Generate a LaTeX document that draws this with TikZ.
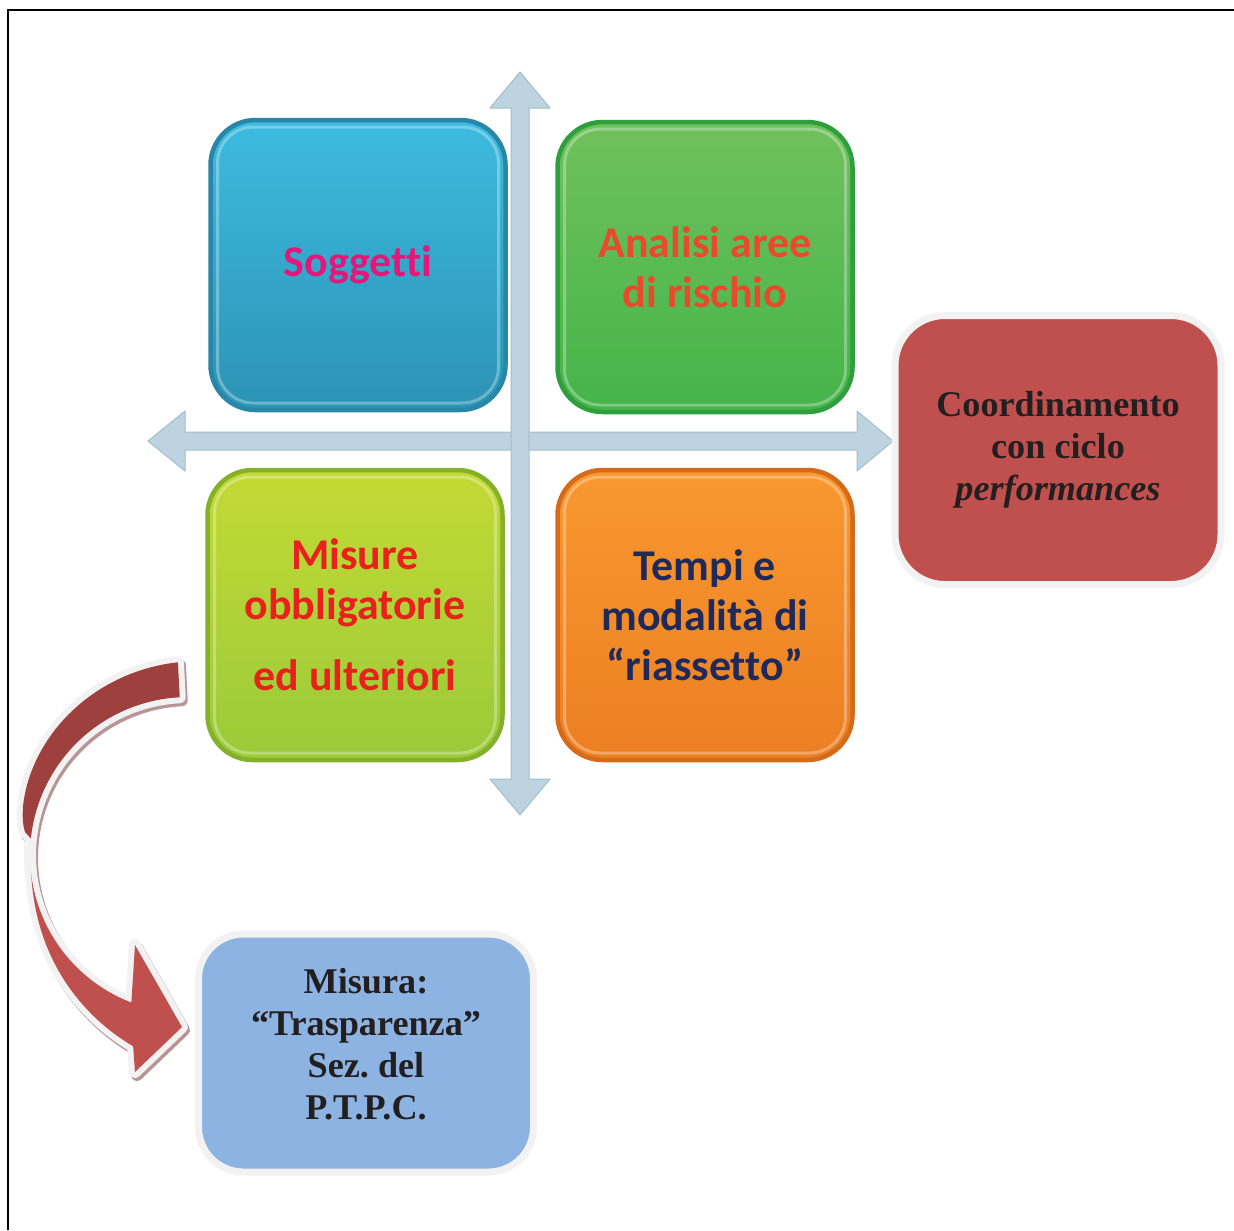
\documentclass[tikz,border=0pt]{standalone}
\usepackage{fontspec}
\setmainfont{Liberation Serif}
\newfontfamily\calibri[Ligatures=NoCommon]{Carlito}

\definecolor{arrowfill}{HTML}{BDD3DF}
\definecolor{arrowedge}{HTML}{A3BDCB}
\definecolor{cyantop}{HTML}{3DBBE0}
\definecolor{cyanbot}{HTML}{2C93B5}
\definecolor{cyanrim}{HTML}{2886A8}
\definecolor{greentop}{HTML}{70C15C}
\definecolor{greenbot}{HTML}{44B44A}
\definecolor{greenrim}{HTML}{2F9E3D}
\definecolor{limetop}{HTML}{C4DA34}
\definecolor{limebot}{HTML}{9ACA3A}
\definecolor{limerim}{HTML}{84B02A}
\definecolor{orangetop}{HTML}{F8982F}
\definecolor{orangebot}{HTML}{EC7F23}
\definecolor{orangerim}{HTML}{D46A1A}
\definecolor{boxred}{HTML}{C0504D}
\definecolor{boxblue}{HTML}{8DB3E2}
\definecolor{darkred}{HTML}{9E403E}
\definecolor{shadowred}{HTML}{B89494}
\definecolor{txtmagenta}{HTML}{E4177A}
\definecolor{txtorange}{HTML}{E94A2C}
\definecolor{txtred}{HTML}{E8211E}
\definecolor{txtnavy}{HTML}{1F2A5A}
\definecolor{txtblack}{HTML}{231F20}

\begin{document}
\begin{tikzpicture}[x=0.1mm,y=-0.1mm]
	\tikzstyle{tile}=[rounded corners=4.5mm, line width=0.45mm, minimum width=29.5mm, minimum height=29mm, inner sep=0pt, align=center, font=\calibri\bfseries\fontsize{12.5}{14.2}\selectfont,
		path picture={\draw[white,opacity=0.3,line width=0.3mm,rounded corners=3.6mm] ([shift={(7,7)}]path picture bounding box.north west) rectangle ([shift={(-7,-7)}]path picture bounding box.south east);}]
	\tikzstyle{side}=[rounded corners=5mm, draw=black!5, line width=0.7mm, inner sep=0pt, align=center, text=txtblack, font=\bfseries\fontsize{10.3}{11.95}\selectfont]
	\tikzstyle{axis}=[fill=arrowfill, draw=arrowedge, line width=0.1mm, line join=round]
	\tikzstyle{rim}=[line width=1.2mm, line join=round]

	\useasboundingbox (0,0) rectangle (1234,1230);
	\draw[line width=0.22mm] (8,1230) -- (8,10) -- (1234,10);

	% cross
	\path[axis] (148,441) -- (185,411) -- (185,432) -- (857,432) -- (857,411) -- (893,441)
		-- (857,471) -- (857,450) -- (185,450) -- (185,471) -- cycle;
	\path[axis] (520,72) -- (550,108) -- (529,108) -- (529,779) -- (550,779) -- (520,815)
		-- (490,779) -- (511,779) -- (511,108) -- (490,108) -- cycle;

	\node [tile, draw=cyanrim, top color=cyantop, bottom color=cyanbot, text=txtmagenta] (sogg) at (358,265) {Soggetti};
	\node [tile, draw=greenrim, top color=greentop, bottom color=greenbot, text=txtorange] (anal) at (705,267) {Analisi aree\\di rischio};
	\node [tile, draw=limerim, top color=limetop, bottom color=limebot, text=txtred] (misu) at (355,615) {Misure\\obbligatorie\\[6pt]ed ulteriori};
	\node [tile, draw=orangerim, top color=orangetop, bottom color=orangebot, text=txtnavy] (temp) at (705,615) {Tempi e\\modalità di\\“riassetto”};

	\node [side, fill=boxred, minimum width=32.6mm, minimum height=26.9mm] (coord) at (1058,450) {Coordinamento\\con ciclo\\\textit{performances}};
	\node [side, fill=boxblue, minimum width=33.5mm, minimum height=23.8mm, rounded corners=4.5mm,
		label={[name=trasptext, side, draw=none, yshift=0.9mm]center:{Misura:\\“Trasparenza”\\Sez.\ del\\P.T.P.C.}}] (trasp) at (366,1053) {};

	% curved arrow from misu to trasp
	\begin{scope}[shift={(188,855)}]
		\foreach \col/\dx/\dy in {shadowred/2/3, black!5/0/0}
			\draw[rim, draw=\col, shift={(\dx,\dy)}] plot[domain=267:186, samples=40] (\x:{158+35*((\x-186)/81)^0.45})
				-- plot[domain=186:174, samples=5] (\x:158)
				-- plot[domain=174:106, samples=40] (\x:{158+41*((174-\x)/68)^1.5})
				-- (-53,217) -- (-6,172) -- (-53,90)
				-- plot[domain=111:267, samples=60] (\x:158) -- cycle;
		\fill[darkred] plot[domain=267:186, samples=40] (\x:{158+35*((\x-186)/81)^0.45})
			-- plot[domain=186:267, samples=40] (\x:158) -- cycle;
		\fill[boxred] plot[domain=174:106, samples=40] (\x:{158+41*((174-\x)/68)^1.5})
			-- (-53,217) -- (-6,172) -- (-53,90)
			-- plot[domain=111:174, samples=40] (\x:158) -- cycle;
	\end{scope}
\end{tikzpicture}
\end{document}
